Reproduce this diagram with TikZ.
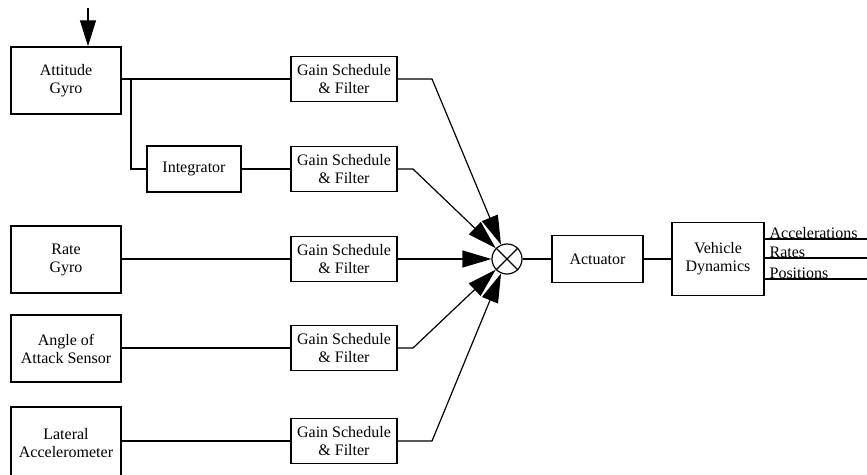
\documentclass[tikz,border=0pt]{standalone}
\usepackage{fontspec}
\setmainfont{Liberation Serif}
\usetikzlibrary{arrows.meta}

\begin{document}
\begin{tikzpicture}[x=1pt,y=-1pt,line width=1.2pt,
    every node/.style={font=\fontsize{16}{18}\selectfont,align=center},
    sensor/.style={draw,line width=1.5pt,minimum width=110pt,minimum height=67pt,inner sep=0pt},
    gainbox/.style={draw,line width=1.5pt,minimum width=106pt,minimum height=45pt,inner sep=0pt},
    tip/.style={-{Triangle[length=29pt,width=17pt]}}]
    \clip (0,0) rectangle (867,474);
    \useasboundingbox (0,0) rectangle (867,474);

    \node[sensor] (att) at (66,80.5) {Attitude\\Gyro};
    \node[sensor] (rate) at (66,259.5) {Rate\\Gyro};
    \node[sensor] (aoa) at (66,348.5) {Angle of\\Attack Sensor};
    \node[sensor,minimum height=72pt] (lat) at (66,443) {Lateral\\Accelerometer};

    \node[draw,line width=1.5pt,minimum width=94pt,minimum height=46pt,inner sep=0pt] (integ) at (194,169) {Integrator};

    \node[gainbox] (gain1) at (344,79) {Gain Schedule\\\& Filter};
    \node[gainbox] (gain2) at (344,169) {Gain Schedule\\\& Filter};
    \node[gainbox] (gain3) at (344,259) {Gain Schedule\\\& Filter};
    \node[gainbox] (gain4) at (344,348) {Gain Schedule\\\& Filter};
    \node[gainbox] (gain5) at (344,441) {Gain Schedule\\\& Filter};

    \node[draw,circle,minimum size=30pt,inner sep=0pt] (sum) at (507,259) {};
    \draw (sum.north west) -- (sum.south east) (sum.north east) -- (sum.south west);

    \node[draw,line width=1.5pt,minimum width=91pt,minimum height=47pt,inner sep=0pt] (act) at (597.5,259) {Actuator};
    \node[draw,line width=1.5pt,minimum width=92pt,minimum height=73pt,inner sep=0pt] (veh) at (718,259) {Vehicle\\Dynamics};

    \coordinate (in) at (88,8);
    \coordinate (split) at (131,79);
    \coordinate (bend1) at (432,79);
    \coordinate (bend2) at (413,169);
    \coordinate (bend4) at (413,348);
    \coordinate (bend5) at (432,441);
    \coordinate (acc) at (867,239);
    \coordinate (rts) at (867,258);
    \coordinate (pos) at (867,279);

    \draw[-{Triangle[length=26pt,width=16pt]}] (in) -- (in |- att.north);
    \draw (att.east |- split) -- (gain1.west);
    \draw (split) |- (integ.west);
    \draw (integ.east) -- (gain2.west);
    \draw (rate.east |- gain3) -- (gain3.west);
    \draw (aoa.east |- gain4) -- (gain4.west);
    \draw (lat.east |- gain5) -- (gain5.west);

    \draw[tip] (gain1.east) -- (bend1) -- (sum);
    \draw[tip] (gain2.east) -- (bend2) -- (sum);
    \draw[tip] (gain3.east) -- (sum);
    \draw[tip] (gain4.east) -- (bend4) -- (sum);
    \draw[tip] (gain5.east) -- (bend5) -- (sum);

    \draw (sum.east) -- (act.west);
    \draw (act.east) -- (veh.west);

    \draw (veh.east |- acc) -- (acc);
    \draw (veh.east |- rts) -- (rts);
    \draw (veh.east |- pos) -- (pos);
    \node[anchor=base west,inner sep=0pt] (acclbl) at (769,238) {Accelerations};
    \node[anchor=base west,inner sep=0pt] (rtslbl) at (769,257) {Rates};
    \node[anchor=base west,inner sep=0pt] (poslbl) at (769,278) {Positions};
\end{tikzpicture}
\end{document}
